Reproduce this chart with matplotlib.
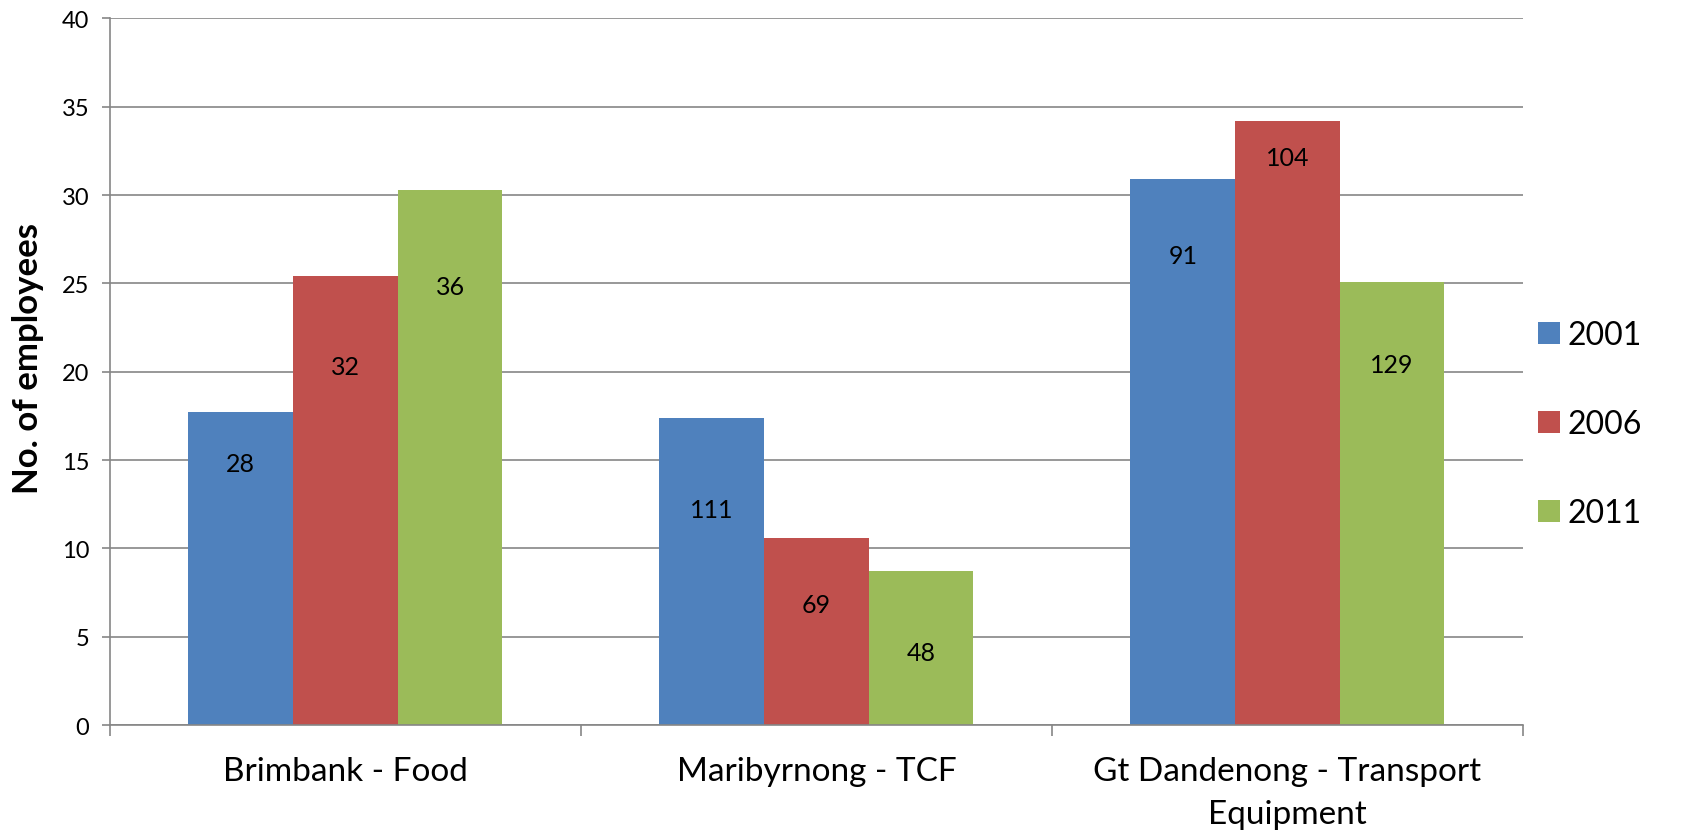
import matplotlib
matplotlib.use("Agg")
import matplotlib.pyplot as plt
import numpy as np

categories = ["Brimbank - Food", "Maribyrnong - TCF", "Gt Dandenong - Transport\nEquipment"]
years = ["2001", "2006", "2011"]
employees = {
    "2001": [17.7, 17.4, 30.9],
    "2006": [25.4, 10.6, 34.2],
    "2011": [30.3, 8.7, 25.1],
}
# counts written on the bars and the height where each one sits
bar_labels = {
    "2001": ["28", "111", "91"],
    "2006": ["32", "69", "104"],
    "2011": ["36", "48", "129"],
}
label_heights = {
    "2001": [14.8, 12.2, 26.6],
    "2006": [20.3, 6.8, 32.1],
    "2011": [24.8, 4.1, 20.4],
}
colors = {"2001": "#4F81BD", "2006": "#C0504D", "2011": "#9BBB59"}
yticks = [0, 5, 10, 15, 20, 25, 30, 35, 40]

plt.rcParams["font.family"] = ["Lato", "DejaVu Sans"]

fig = plt.figure(figsize=(16.86, 8.37), dpi=100)
ax = fig.add_axes([0.0652, 0.1326, 0.8381, 0.8442])

x = np.arange(len(categories))
width = 1 / 4.5
for i, yr in enumerate(years):
    pos = x + (i - 1) * width
    ax.bar(pos, employees[yr], width=width, color=colors[yr], label=yr, zorder=2)
    for px, ly, txt in zip(pos, label_heights[yr], bar_labels[yr]):
        ax.text(px, ly, txt, ha="center", va="center", fontsize=18, color="black", zorder=3)

ax.set_xlim(-0.5, len(categories) - 0.5)
ax.set_ylim(0, 40)
ax.set_yticks(yticks)
ax.tick_params(axis="y", labelsize=17, length=6, width=1.2, color="#868686", pad=9)
ax.yaxis.grid(True, color="#868686", linewidth=1.2)
ax.set_axisbelow(True)

# category boundaries carry the tick marks, centres carry the labels
ax.set_xticks(np.arange(-0.5, len(categories)))
ax.set_xticklabels([])
ax.set_xticks(x, minor=True)
ax.set_xticklabels(categories, minor=True, fontsize=24, linespacing=1.55)
ax.tick_params(axis="x", which="major", length=8, width=1.2, color="#868686")
ax.tick_params(axis="x", which="minor", length=0, pad=22)

for side in ["top", "right"]:
    ax.spines[side].set_visible(False)
for side in ["left", "bottom"]:
    ax.spines[side].set_color("#868686")
    ax.spines[side].set_linewidth(1.2)

ax.set_ylabel("No. of employees", fontsize=25, fontweight="bold")
ax.yaxis.set_label_coords(-0.047, 0.52)

fig.legend(loc="center left", bbox_to_anchor=(1538 / 1686, 1 - 425 / 837),
           frameon=False, fontsize=23, handlelength=0.68, handleheight=0.68,
           handletextpad=0.25, labelspacing=1.85, borderpad=0, borderaxespad=0)

fig.savefig("out.png", dpi=100)
